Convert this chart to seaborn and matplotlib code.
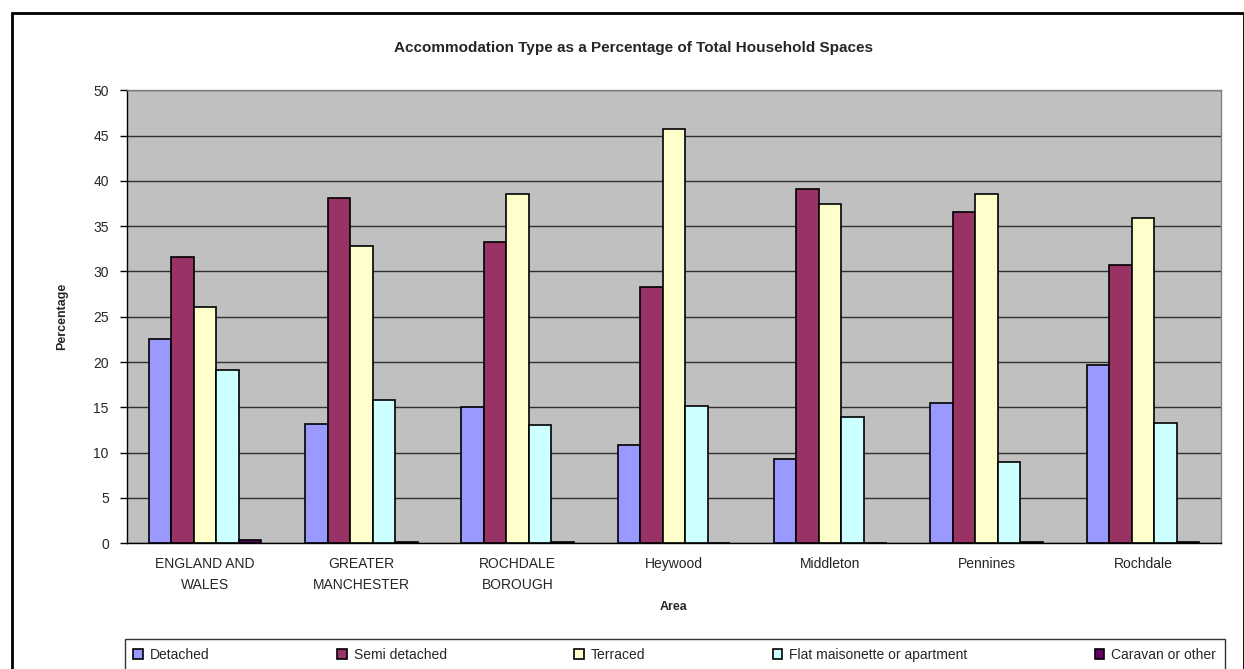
import pandas as pd
import matplotlib.pyplot as plt
import seaborn as sns
from matplotlib.patches import Rectangle

# === Data ===
areas = ["ENGLAND AND\nWALES", "GREATER\nMANCHESTER", "ROCHDALE\nBOROUGH",
         "Heywood", "Middleton", "Pennines", "Rochdale"]
types = ["Detached", "Semi detached", "Terraced",
         "Flat maisonette or apartment", "Caravan or other"]

detached = [22.6, 13.2, 15.0, 10.8, 9.3, 15.5, 19.7]
semi_detached = [31.6, 38.1, 33.2, 28.3, 39.1, 36.6, 30.7]
terraced = [26.1, 32.8, 38.5, 45.7, 37.5, 38.5, 35.9]
flat = [19.1, 15.8, 13.0, 15.1, 13.9, 9.0, 13.3]
caravan = [0.4, 0.1, 0.1, 0.0, 0.0, 0.1, 0.1]

colors = ["#9999FF", "#993366", "#FFFFCC", "#CCFFFF", "#660066"]

# === Long-form table for seaborn ===
series = [detached, semi_detached, terraced, flat, caravan]
rows = []
for t, vals in zip(types, series):
    for a, v in zip(areas, vals):
        rows.append({"Area": a, "Type": t, "Percentage": v})
df = pd.DataFrame(rows)

sns.set_style("white")
plt.rcParams["font.family"] = ["Liberation Sans", "DejaVu Sans"]

fig = plt.figure(figsize=(12.44, 6.69), dpi=100)
ax = fig.add_axes([0.102, 0.188, 0.8795, 0.677])
ax.set_facecolor("#C0C0C0")

sns.barplot(data=df, x="Area", y="Percentage", hue="Type", hue_order=types,
            order=areas, palette=colors, saturation=1, edgecolor="black",
            linewidth=1.2, width=0.72, ax=ax, errorbar=None)

ax.set_ylim(0, 50)
ax.set_xlim(-0.5, len(areas) - 0.5)
ax.set_yticks(range(0, 51, 5))
ax.yaxis.grid(True, color="#303030", linewidth=1)
ax.set_axisbelow(True)

# ticks between groups, labels centred under groups
ax.set_xticks([i + 0.5 for i in range(-1, len(areas))], minor=True)
ax.tick_params(axis="x", which="major", length=0, pad=10, labelsize=10)
ax.tick_params(axis="x", which="minor", length=5, color="black", width=1)
ax.tick_params(axis="y", length=5, color="black", width=1, labelsize=10,
               left=True, pad=8)
for lbl in ax.get_xticklabels():
    lbl.set_linespacing(1.6)

ax.spines["left"].set_color("black")
ax.spines["bottom"].set_color("black")
ax.spines["top"].set_color("#808080")
ax.spines["right"].set_color("#808080")
for s in ax.spines.values():
    s.set_linewidth(1)

ax.set_xlabel("Area", fontsize=9, fontweight="bold", labelpad=7)
ax.set_ylabel("Percentage", fontsize=9, fontweight="bold", labelpad=18)
fig.text(0.509, 0.928, "Accommodation Type as a Percentage of Total Household Spaces",
         ha="center", va="center", fontsize=11, fontweight="bold")

# legend along the bottom
handles, labels = ax.get_legend_handles_labels()
ax.get_legend().remove()
leg = fig.legend(handles, labels, ncol=5, loc="lower left",
                 bbox_to_anchor=(0.095, -0.012, 0.895, 0.065), mode="expand",
                 frameon=True, fancybox=False, edgecolor="black",
                 fontsize=10, handlelength=0.7, handleheight=0.7,
                 handletextpad=0.5, borderpad=0.6)
leg.get_frame().set_linewidth(1)

# outer chart border
fig.patches.append(Rectangle((0.0097, -0.05), 0.99, 1.03, transform=fig.transFigure,
                             fill=False, edgecolor="black", linewidth=2))

fig.savefig("out.png", dpi=100, facecolor="white")
